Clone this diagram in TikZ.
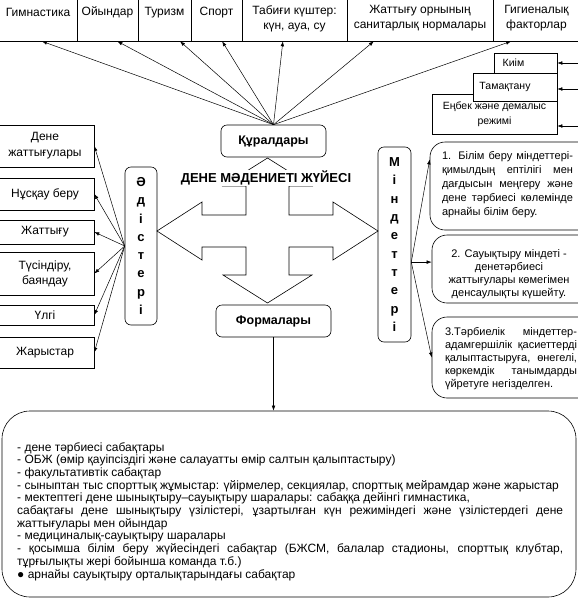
\documentclass[tikz,border=0pt]{standalone}
\usepackage{fontspec}
\setmainfont{Liberation Sans}
\usetikzlibrary{arrows.meta,calc}

\begin{document}
\begin{tikzpicture}[x=1pt,y=-1pt,
		tbox/.style={draw,line width=0.6pt,inner sep=1pt,align=center,font=\fontsize{12}{15}\selectfont},
		rbox/.style={tbox,rounded corners=6pt},
		vbox/.style={rbox,font=\bfseries\fontsize{13}{18.3}\selectfont},
		sbox/.style={tbox,fill=white,font=\fontsize{10.5}{15}\selectfont},
		bigbox/.style={draw,line width=0.6pt,rounded corners=15pt},
		arr/.style={line width=0.5pt,-{Latex[length=5pt,width=3.6pt]}}]
	\useasboundingbox (0,0) rectangle (578,600);
	\clip (0,0) rectangle (578,600);
	\node[tbox,minimum width=78,minimum height=57] (gym) at (38,12.5) {Гимнастика};
	\node[tbox,minimum width=61,minimum height=57] (oyin) at (107.5,12.5) {Ойындар};
	\node[tbox,minimum width=53,minimum height=57] (tur) at (164.5,12.5) {Туризм};
	\node[tbox,minimum width=51,minimum height=57] (sport) at (216.5,12.5) {Спорт};
	\node[tbox,minimum width=105,minimum height=45] (tabigi) at (294.5,18.5) {Табиғи күштер:\\күн, ауа, су};
	\node[tbox,minimum width=146,minimum height=45] (orny) at (420,18.5) {Жаттығу орнының\\санитарлық нормалары};
	\node[tbox,minimum width=87,minimum height=45] (gig) at (536.5,18.5) {Гигиеналық\\факторлар};
	\node[rbox,minimum width=105,minimum height=32,font=\bfseries\fontsize{12.5}{15}\selectfont] (kural) at (273.5,141) {Құралдары};
	\node[rbox,minimum width=115,minimum height=32,font=\bfseries\fontsize{12.5}{15}\selectfont] (formy) at (273.5,321) {Формалары};
	\draw[arr] (kural.north) -- ($(gym.south west)!0.55!(gym.south east)$);
	\draw[arr] (kural.north) -- ($(oyin.south west)!0.66!(oyin.south east)$);
	\draw[arr] (kural.north) -- ($(tur.south west)!0.79!(tur.south east)$);
	\draw[arr] (kural.north) -- ($(sport.south west)!0.61!(sport.south east)$);
	\draw[arr] (kural.north) -- ($(tabigi.south west)!0.39!(tabigi.south east)$);
	\draw[arr] (kural.north) -- ($(orny.south west)!0.185!(orny.south east)$);
	\draw[arr] (kural.north) -- ($(gig.south west)!0.21!(gig.south east)$);
	\node[sbox,minimum width=125,minimum height=40] (enbek) at (494.5,114) {Еңбек және демалыс\\режимі};
	\node[sbox,minimum width=84,minimum height=28] (tamak) at (515,87) {Тамақтану\hspace*{20pt}};
	\node[sbox,minimum width=63,minimum height=20] (kiim) at (525.5,63) {Киім\hspace*{24pt}};
	\coordinate (k1) at (582,63);
	\coordinate (k2) at (582,89);
	\coordinate (k3) at (582,126);
	\draw[arr] (k1) -- (k1 -| kiim.east);
	\draw[arr] (k2) -- (k2 -| tamak.east);
	\draw[arr] (k3) -- (k3 -| enbek.east);
	\draw[line width=0.6pt] (267.5,158) -- (312,186) -- (289,186) -- (289,215) -- (333,215) -- (333,202) -- (378,231)
		-- (333,260) -- (333,247) -- (289,247) -- (289,275) -- (312,275) -- (267.5,303) -- (223,275) -- (246,275)
		-- (246,247) -- (202,247) -- (202,260) -- (157,231) -- (202,202) -- (202,215) -- (246,215) -- (246,186)
		-- (223,186) -- cycle;
	\node[fill=white,inner sep=1pt,font=\bfseries\fontsize{13}{15}\selectfont] (title) at (266,178) {ДЕНЕ МӘДЕНИЕТІ ЖҮЙЕСІ};
	\node[vbox,minimum width=32,minimum height=158] (adis) at (141,246) {Ә\\д\\і\\с\\т\\е\\р\\і};
	\node[vbox,minimum width=33,minimum height=195] (mind) at (394.5,244.5) {М\\і\\н\\д\\е\\т\\т\\е\\р\\і};
	\node[tbox,minimum width=98,minimum height=42,font=\fontsize{12}{16}\selectfont] (dene) at (45,146) {Дене\\жаттығулары};
	\node[tbox,minimum width=98,minimum height=32] (nuskau) at (45,194) {Нұсқау беру};
	\node[tbox,minimum width=98,minimum height=24] (zhat) at (45,232) {Жаттығу};
	\node[tbox,minimum width=98,minimum height=43] (tusin) at (45,273.5) {Түсіндіру,\\баяндау};
	\node[tbox,minimum width=98,minimum height=20] (ulgi) at (45,315) {Үлгі};
	\node[tbox,minimum width=98,minimum height=31] (zharys) at (45,352.5) {Жарыстар};
	\draw[arr] (adis.west) -- (dene.east);
	\draw[arr] (adis.west) -- (nuskau.east);
	\draw[arr] (adis.west) -- (zhat.east);
	\draw[arr] (adis.west) -- (tusin.east);
	\draw[arr] (adis.west) -- (ulgi.east);
	\draw[arr] (adis.west) -- (zharys.east);
	\node[bigbox,minimum width=180,minimum height=88] (b1) at (520,186) {};
	\node[bigbox,minimum width=178,minimum height=68] (b2) at (521,269) {};
	\node[bigbox,minimum width=178,minimum height=81] (b3) at (521,357.5) {};
	\node[align=left,inner sep=0pt,font=\fontsize{11}{14}\selectfont] (t1) at (507.5,185) {\makebox[131pt][s]{1. Білім беру міндеттері-}\\\makebox[131pt][s]{қимылдың ептілігі мен}\\\makebox[131pt][s]{дағдысын меңгеру және}\\\makebox[131pt][s]{дене тәрбиесі көлемінде}\\арнайы білім беру.};
	\node[align=center,inner sep=0pt,font=\fontsize{11}{13}\selectfont] (t2) at (509,274) {2. Сауықтыру міндеті -\\денетәрбиесі\\жаттығулары көмегімен\\денсаулықты күшейту.};
	\node[align=left,inner sep=0pt,font=\fontsize{11}{13}\selectfont] (t3) at (511,359) {\makebox[132pt][s]{3.Тәрбиелік міндеттер-}\\\makebox[132pt][s]{адамгершілік қасиеттерді}\\\makebox[132pt][s]{қалыптастыруға, өнегелі,}\\\makebox[132pt][s]{көркемдік танымдарды}\\үйретуге негізделген.};
	\coordinate (m0) at ($(mind.north east)!0.59!(mind.south east)$);
	\draw[arr] (m0) -- ($(b1.north west)!0.2!(b1.south west)$);
	\draw[arr] (m0) -- (m0 -| b2.west);
	\draw[arr] (m0) -- (b3.west);
	\node[draw,line width=0.6pt,rounded corners=28pt,minimum width=574,minimum height=186] (bot) at (289,504) {};
	\draw[arr] (formy.south) -- (formy.south |- bot.north);
	\node[anchor=north west,inner sep=0pt,align=left,font=\fontsize{12}{12.7}\selectfont] (btext) at (17,442) {- дене тәрбиесі сабақтары\\
		- ОБЖ (өмір қауіпсіздігі және салауатты өмір салтын қалыптастыру)\\
		- факультативтік сабақтар\\
		- сыныптан тыс спорттық жұмыстар: үйірмелер, секциялар, спорттық мейрамдар және жарыстар\\
		- мектептегі дене шынықтыру–сауықтыру шаралары: сабаққа дейінгі гимнастика,\\
		\makebox[546pt][s]{сабақтағы дене шынықтыру үзілістері, ұзартылған күн режиміндегі және үзілістердегі дене}\\
		жаттығулары мен ойындар\\
		- медициналық-сауықтыру шаралары\\
		\makebox[546pt][s]{- қосымша білім беру жүйесіндегі сабақтар (БЖСМ, балалар стадионы, спорттық клубтар,}\\
		тұрғылықты жері бойынша команда т.б.)\\
		● арнайы сауықтыру орталықтарындағы сабақтар};
\end{tikzpicture}
\end{document}
